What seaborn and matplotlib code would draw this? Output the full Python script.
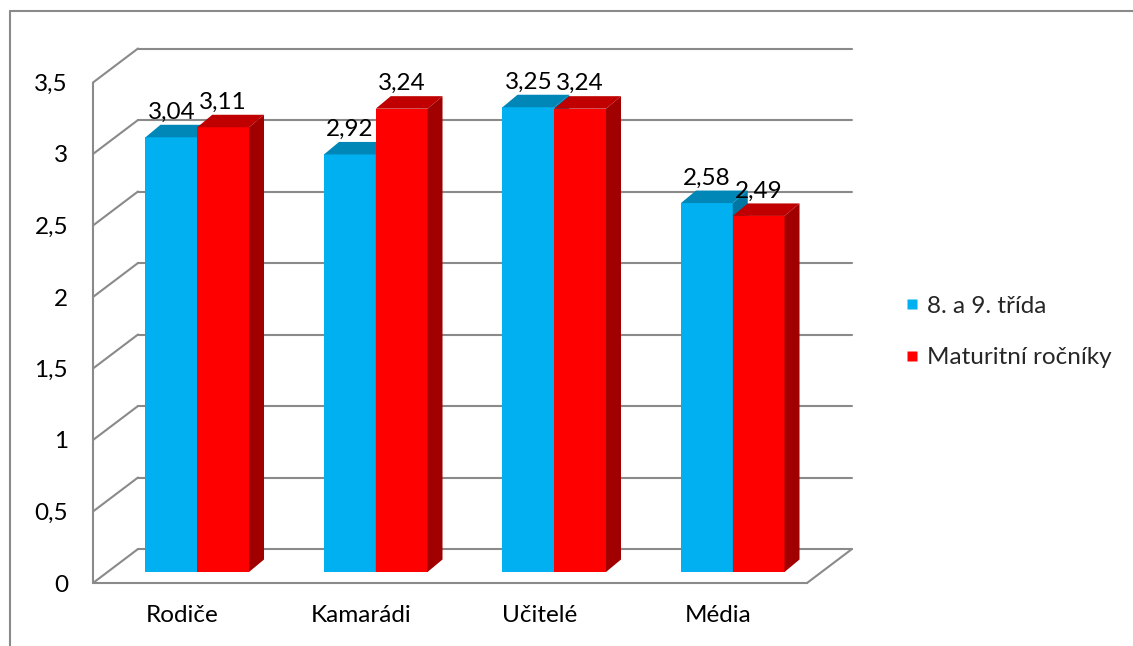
import pandas as pd
import seaborn as sns
import matplotlib.pyplot as plt
from matplotlib.patches import Polygon
from matplotlib.lines import Line2D
import matplotlib.transforms as mtransforms

categories = ["Rodiče", "Kamarádi", "Učitelé", "Média"]
series = ["8. a 9. třída", "Maturitní ročníky"]
trida_8_9 = [3.04, 2.92, 3.25, 2.58]
maturitni = [3.11, 3.24, 3.24, 2.49]
yticks = [0, 0.5, 1, 1.5, 2, 2.5, 3, 3.5]

front_colors = ["#00B0F0", "#FF0000"]
top_colors = ["#0087B8", "#C00000"]
side_colors = ["#0077A3", "#A00000"]
grid_color = "#8A8A8A"
fs = 17.5

sns.set_theme(style="white")
plt.rcParams['font.family'] = ['Lato', 'DejaVu Sans']

W, H = 1133, 646
fig = plt.figure(figsize=(W / 100, H / 100), dpi=100)
# bar plane in pixels: x 108..822, value 0 at y=572, 143 px per unit
ax = fig.add_axes([108 / W, (H - 572) / H, 714 / W, 3.5 * 143 / H])

df = pd.DataFrame({
    "kat": categories * 2,
    "hodnota": trida_8_9 + maturitni,
    "skupina": [series[0]] * 4 + [series[1]] * 4,
})
sns.barplot(data=df, x="kat", y="hodnota", hue="skupina", hue_order=series,
            palette=front_colors, saturation=1, width=0.58, errorbar=None,
            legend=False, linewidth=0, ax=ax)
ax.set_xlim(-0.5, 3.5)
ax.set_ylim(0, 3.5)

pxx = 714 / 4.0   # px per x unit
pxy = 143.0       # px per y unit
# depth offsets (pixels -> data)
ddx, ddy = 15 / pxx, 12.5 / pxy      # bar depth
fx, fy = -15 / pxx, -11 / pxy        # front plane
bx, by = 30 / pxx, 23 / pxy          # back wall
x0, x1 = -0.5, 3.5

# back wall grid and left wall diagonals
for v in yticks:
    ax.plot([x0 + bx, x1 + bx], [v + by, v + by], color=grid_color, lw=1.5,
            zorder=1, clip_on=False)
    ax.plot([x0 + fx, x0 + bx], [v + fy, v + by], color=grid_color, lw=1.5,
            zorder=1, clip_on=False)
# front axis and floor
ax.plot([x0 + fx, x0 + fx], [fy, 3.5 + fy], color=grid_color, lw=1.5, zorder=1, clip_on=False)
ax.plot([x0 + fx, x1 + fx], [fy, fy], color=grid_color, lw=1.5, zorder=1, clip_on=False)
ax.plot([x1 + fx, x1 + bx], [fy, by], color=grid_color, lw=1.5, zorder=1, clip_on=False)

for i, cont in enumerate(ax.containers):
    z = 3 + i
    for bar in cont:
        bar.set_zorder(z)
        xa = bar.get_x()
        w = bar.get_width()
        h = bar.get_height()
        top = Polygon([(xa, h), (xa + w, h), (xa + w + ddx, h + ddy), (xa + ddx, h + ddy)],
                      closed=True, facecolor=top_colors[i], edgecolor="none", zorder=z,
                      clip_on=False)
        side = Polygon([(xa + w, 0), (xa + w, h), (xa + w + ddx, h + ddy), (xa + w + ddx, ddy)],
                       closed=True, facecolor=side_colors[i], edgecolor="none", zorder=z,
                       clip_on=False)
        ax.add_patch(top)
        ax.add_patch(side)
        ax.annotate(f"{h:.2f}".replace(".", ","), (xa + w / 2, h), xytext=(0, 18),
                    textcoords="offset points", ha="center", va="center",
                    fontsize=fs, color="black", zorder=10)

sns.despine(ax=ax, left=True, bottom=True)
ax.set_xlabel("")
ax.set_ylabel("")
ax.set_yticks(yticks)
ax.set_yticklabels([f"{t:g}".replace(".", ",") for t in yticks])
ax.tick_params(axis="both", length=0, labelsize=fs, colors="black")
ax.tick_params(axis="y", pad=18)
ax.tick_params(axis="x", pad=16)
shift = mtransforms.ScaledTranslation(-0.15, -0.11, fig.dpi_scale_trans)
for lab in ax.get_yticklabels() + ax.get_xticklabels():
    lab.set_transform(lab.get_transform() + shift)
ax.grid(False)
ax.patch.set_alpha(0)

handles = [Line2D([], [], marker="s", linestyle="none", markersize=7.5,
                  markerfacecolor=c, markeredgecolor="none") for c in front_colors]
fig.legend(handles, series, loc="center left", bbox_to_anchor=(905 / W, 1 - 332 / H),
           frameon=False, fontsize=fs, labelspacing=1.25, handlelength=0.6,
           handletextpad=0.3, borderpad=0, borderaxespad=0)

# outer chart border
fig.add_artist(Line2D([10 / W, 10 / W], [0, 1 - 11 / H], color=grid_color, lw=1.5))
fig.add_artist(Line2D([10 / W, 1], [1 - 11 / H, 1 - 11 / H], color=grid_color, lw=1.5))

fig.savefig("out.png", dpi=100, facecolor="white")
